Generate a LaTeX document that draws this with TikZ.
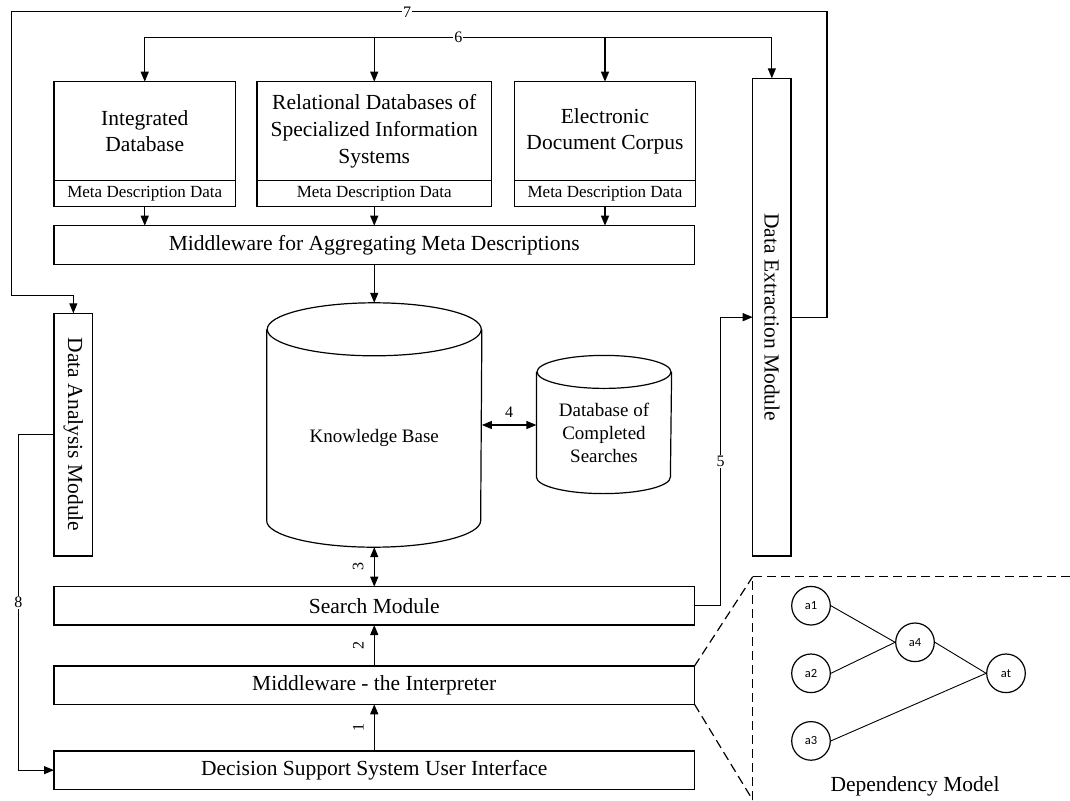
\documentclass[tikz,border=0pt]{standalone}
\usepackage{fontspec}
\setmainfont{Liberation Serif}
\newfontfamily\calibfont{Carlito}
\usetikzlibrary{arrows.meta,positioning}

\newcommand{\boxfs}{\fontsize{21.5}{26.7}\selectfont}
\newcommand{\metafs}{\fontsize{17}{19}\selectfont}
\newcommand{\kbfs}{\fontsize{19}{23}\selectfont}
\newcommand{\numfs}{\fontsize{16}{18}\selectfont}
\newcommand{\circfs}{\calibfont\fontsize{12.5}{15}\selectfont}

\begin{document}
\begin{tikzpicture}[x=1pt,y=-1pt,>={Triangle[length=10pt,width=8pt]},line width=1.2pt,node distance=67.6pt,
    box/.style={draw,rectangle,inner sep=2pt,outer sep=0pt,align=center,font=\boxfs},
    meta/.style={draw,rectangle,inner sep=0pt,outer sep=0pt,minimum height=26pt,font=\metafs},
    lbl/.style={font=\numfs,fill=white,inner sep=1pt},
    num/.style={font=\numfs,inner sep=1pt},
    circ/.style={circle,draw,minimum size=38.6pt,inner sep=0pt,font=\circfs},
    zoomline/.style={dash pattern=on 9pt off 5pt}]

    \useasboundingbox (0,0) rectangle (1070,800);

    % sources
    \node[box, minimum width=181.5pt, minimum height=99pt] (intdb) at (144.75,131.2) {Integrated\\Database};
    \node[meta, minimum width=181.5pt] (intmeta) [below=0pt of intdb] {Meta Description Data};
    \node[box, minimum width=234.5pt, minimum height=99pt] (reldb) at (374.25,131.2) {Relational Databases of\\Specialized Information\\Systems};
    \node[meta, minimum width=234.5pt] (relmeta) [below=0pt of reldb] {Meta Description Data};
    \node[box, minimum width=181pt, minimum height=99pt] (eldb) at (605,131.2) {Electronic\\Document Corpus};
    \node[meta, minimum width=181pt] (elmeta) [below=0pt of eldb] {Meta Description Data};

    \node[box, minimum width=640.5pt, minimum height=38.6pt] (aggr) at (374.25,245) {Middleware for Aggregating Meta Descriptions};

    % knowledge base and searches
    \node[minimum width=214pt, minimum height=243.2pt, inner sep=0pt] (kb) at (374.25,425) {};
    \node[font=\kbfs] (kbtext) at (374.25,437.7) {Knowledge Base};
    \draw ([yshift=-26.5pt]kb.north west) -- ([yshift=26.5pt]kb.south west)
        arc[start angle=180, end angle=360, x radius=107pt, y radius=26.5pt] -- ([yshift=-26.5pt]kb.north east);
    \draw ([yshift=-26.5pt]kb.north) ellipse[x radius=107pt, y radius=26.5pt];

    \node[minimum width=134pt, minimum height=137pt, inner sep=0pt] (done) at (604,424.5) {};
    \node[font=\kbfs, align=center] (donetext) at (604,433.2) {Database of\\Completed\\Searches};
    \draw ([yshift=-16.5pt]done.north west) -- ([yshift=16.5pt]done.south west)
        arc[start angle=180, end angle=360, x radius=67pt, y radius=16.5pt] -- ([yshift=-16.5pt]done.north east);
    \draw ([yshift=-16.5pt]done.north) ellipse[x radius=67pt, y radius=16.5pt];

    % modules
    \node[box, minimum width=38.7pt, minimum height=242.7pt] (da) at (73.35,434.65) {\rotatebox{-90}{Data Analysis Module}};
    \node[box, minimum width=38.3pt, minimum height=477.7pt] (de) at (771.85,317.15) {\rotatebox{-90}{Data Extraction Module}};

    \node[box, minimum width=640.5pt, minimum height=38.3pt] (search) at (374.25,605.85) {Search Module};
    \node[box, minimum width=640.5pt, minimum height=38.3pt] (interp) at (374.25,685.15) {Middleware - the Interpreter};
    \node[box, minimum width=640.5pt, minimum height=38.3pt] (dss) at (374.25,770.15) {Decision Support System User Interface};

    \coordinate (c6l) at (144.75,37.3);
    \coordinate (c6r) at (771.85,37.3);

    \draw[<->] (intdb.north) -- (c6l) -- node[lbl]{6} (c6r) -- (de.north);
    \draw[->] (reldb.north |- c6l) -- (reldb.north);
    \draw[->] (eldb.north |- c6l) -- (eldb.north);

    \draw[->] (intmeta.south) -- (intmeta.south |- aggr.north);
    \draw[->] (relmeta.south) -- (relmeta.south |- aggr.north);
    \draw[->] (elmeta.south) -- (elmeta.south |- aggr.north);
    \draw[->] (aggr.south) -- (kb.north);

    \draw[<->] (kb.east) -- node[num, midway, above=6pt]{4} (kb.east -| done.west);
    \draw[<->] (kb.south) -- node[num, midway, xshift=-16pt, rotate=90]{3} (search.north);
    \draw[->] (interp.north) -- node[num, midway, xshift=-16pt, rotate=90]{2} (search.south);
    \draw[->] (dss.north) -- node[num, midway, xshift=-16pt, rotate=90]{1} (interp.south);

    \draw[->] (search.east) -- ++(26,0) |- node[lbl, pos=0.25]{5} (de.west);
    \draw[->] (de.east) -- ++(36,0) -- ++(0,-305.3) -- node[lbl, pos=0.515]{7} ++(-815.3,0) -- ++(0,283.3) -| (da.north);
    \draw[->] (da.west) -- ++(-35.7,0) |- node[lbl, pos=0.25]{8} (dss.west);

    % dependency model
    \coordinate (zoomc) at (752.7,576.7);
    \draw[zoomline] (interp.north east) -- (zoomc);
    \draw[zoomline] (interp.south east) -- (752.7,800);
    \draw[zoomline] (1070,576.7) -- (zoomc) -- (752.7,800);

    \node[circ] (a1) at (811,605.7) {a1};
    \node[circ] (a2) [below of = a1] {a2};
    \node[circ] (a3) [below of = a2] {a3};
    \node[circ] (a4) at (915,642.3) {a4};
    \node[circ] (at) at (1006,673.3) {at};

    \draw[line width=0.9pt] (a1.east) -- (a4.west);
    \draw[line width=0.9pt] (a2.east) -- (a4.west);
    \draw[line width=0.9pt] (a4.east) -- (at.west);
    \draw[line width=0.9pt] (a3.east) -- (at.west);

    \node[font=\boxfs] (deptitle) at (915,786.7) {Dependency Model};
\end{tikzpicture}
\end{document}
